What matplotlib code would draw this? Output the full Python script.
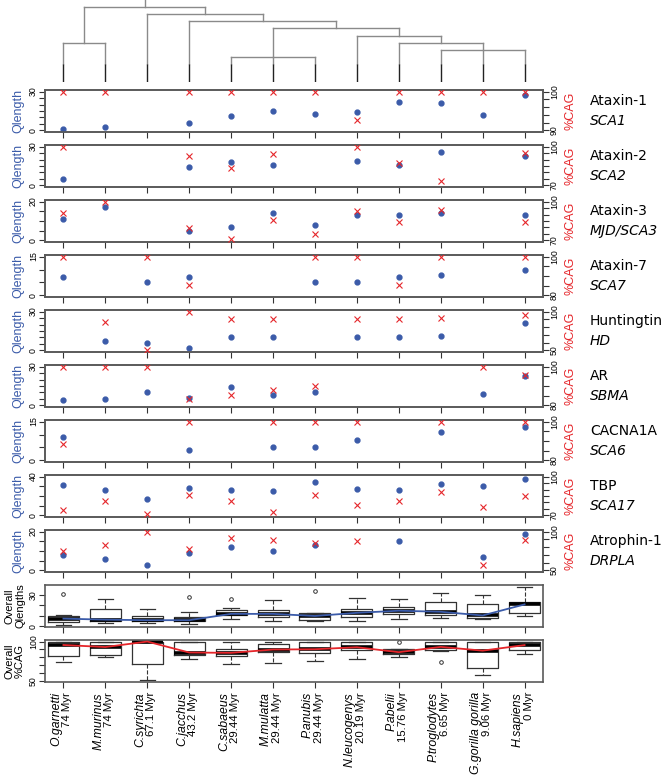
import numpy as np
import matplotlib.pyplot as plt

species = ['O.garnetti', 'M.murinus', 'C.syrichta', 'C.jacchus', 'C.sabaeus', 'M.mulatta',
           'P.anubis', 'N.leucogenys', 'P.abelii', 'P.troglodytes', 'G.gorilla gorilla', 'H.sapiens']
myr = ['74', '74', '67.1', '43.2', '29.44', '29.44', '29.44', '20.19', '15.76', '6.65', '9.06', '0']

genes = ['Ataxin-1', 'Ataxin-2', 'Ataxin-3', 'Ataxin-7', 'Huntingtin', 'AR', 'CACNA1A', 'TBP', 'Atrophin-1']
diseases = ['SCA1', 'SCA2', 'MJD/SCA3', 'SCA7', 'HD', 'SBMA', 'SCA6', 'SCA17', 'DRPLA']

n = np.nan
# polyQ length per gene (rows) and species (columns)
qlen = [
    [1, 3, n, 6, 11, 15, 13, 14, 22, 21, 12, 27],
    [5, n, n, 14, 18, 16, n, 19, 16, 26, n, 23],
    [11, 17, n, 5, 7, 14, 8, 13, 13, 14, n, 13],
    [7, n, 5, 7, n, n, 5, 5, 7, 8, n, 10],
    [n, 7, 6, 2, 10, 10, n, 10, 10, 11, n, 21],
    [4, 5, 10, 6, 14, 8, 10, n, n, n, 9, 23],
    [9, n, n, 4, n, 5, 5, 8, n, 11, n, 13],
    [31, 26, 17, 28, 26, 25, 34, 27, 26, 32, 30, 38],
    [8, 6, 3, 9, 12, 10, 13, n, 15, n, 7, 19],
]
# percent CAG codons
cag = [
    [100, 100, n, 100, 100, 100, 100, 92.8, 100, 100, 100, 100],
    [100, n, n, 92.9, 83.3, 93.9, n, 100, 87.5, 73.4, n, 95.3],
    [91.2, 100, n, 79.8, 71.3, 85.6, 74.8, 92.7, 84.4, 93.2, n, 84.6],
    [100, n, 100, 85.4, n, n, 100, 100, 85.4, 100, n, 100],
    [n, 86, 50.4, 100, 90, 90, n, 90, 90, 91.3, n, 95.5],
    [100, 100, 100, 83.2, 85.6, 87.8, 90.2, n, n, n, 100, 95.6],
    [88.7, n, n, 100, n, 100, 100, 100, n, 100, n, 100],
    [74.3, 80.8, 71, 86, 80.8, 72.3, 85.5, 78, 80.8, 87.8, 76.8, 84.8],
    [75, 83.3, 100, 78, 91.7, 89.6, 85.8, 87.5, n, n, 57, 89.6],
]
q_max = [30, 30, 20, 15, 30, 30, 15, 40, 20]
q_step = [5, 5, 5, 5, 5, 5, 5, 10, 5]
cag_min = [90, 70, 70, 80, 50, 80, 80, 70, 50]
cag_step = [2, 5, 5, 5, 10, 5, 5, 5, 10]

# dendrogram merges: name, children, height
merges = [
    ('A', ['C.sabaeus', 'M.mulatta', 'P.anubis'], 1),
    ('B', ['P.troglodytes', 'G.gorilla gorilla', 'H.sapiens'], 2),
    ('C', ['P.abelii', 'B'], 3),
    ('D', ['N.leucogenys', 'C'], 4),
    ('E', ['A', 'D'], 5),
    ('F', ['C.jacchus', 'E'], 6),
    ('G', ['C.syrichta', 'F'], 7),
    ('H', ['O.garnetti', 'M.murinus'], 3),
    ('root', ['H', 'G'], 8),
]

BLUE = '#3B5BA9'
RED = '#E5262B'
W, H = 669, 777
fig = plt.figure(figsize=(W / 100, H / 100), dpi=100)


def fx(px):
    return px / W


def fy(px):
    return 1 - px / H


x = np.arange(1, 13)
XL = (0.56, 12.44)
LEFT, RIGHT = 45, 543
TOP0, PITCH, PH = 90, 55, 42

# dendrogram
dax = fig.add_axes([fx(LEFT), fy(82), fx(RIGHT - LEFT), 82 / H])
dax.set_xlim(*XL)
dax.set_ylim(-18 / 7.11, 9)
dax.axis('off')
pos = {s: i + 1 for i, s in enumerate(species)}
hgt = {s: 0 for s in species}
for name, kids, h in merges:
    xs = [pos[k] for k in kids]
    for k in kids:
        dax.plot([pos[k], pos[k]], [hgt[k], h], color='#8a8a8a', lw=1)
    dax.plot([min(xs), max(xs)], [h, h], color='#8a8a8a', lw=1)
    pos[name] = (min(xs) + max(xs)) / 2
    hgt[name] = h
dax.plot([pos['root'], pos['root']], [8, 9], color='#8a8a8a', lw=1)
dax.vlines(x, -18 / 7.11, 0, color='#222222', lw=1)


def style(ax):
    for sp in ax.spines.values():
        sp.set_color('#5a5a5a')
        sp.set_linewidth(1.2)
    ax.set_xlim(*XL)
    ax.set_xticks(x)
    ax.set_xticklabels([])
    ax.tick_params(direction='out', length=4, width=0.8, color='#333333', labelsize=6.3, pad=1)


for i in range(9):
    top = TOP0 + i * PITCH
    ax = fig.add_axes([fx(LEFT), fy(top + PH), fx(RIGHT - LEFT), PH / H])
    style(ax)
    qm = q_max[i]
    ax.plot(x, qlen[i], 'o', color=BLUE, ms=3.5, zorder=3)
    ax.set_ylim(-0.04 * qm, 1.04 * qm)
    yt = np.arange(0, qm + 1, q_step[i])
    ax.set_yticks(yt)
    ax.set_yticklabels([str(v) if v in (0, qm) else '' for v in yt], rotation=90, va='center',
                       family='Liberation Sans')
    ax2 = ax.twinx()
    style(ax2)
    cm = cag_min[i]
    r = 100 - cm
    ax2.plot(x, cag[i], 'x', color=RED, ms=4, mew=0.8, zorder=3)
    ax2.set_ylim(cm - 0.04 * r, 100 + 0.04 * r)
    ct = np.arange(cm, 101, cag_step[i])
    ax2.set_yticks(ct)
    ax2.set_yticklabels([str(v) if v in (cm, 100) else '' for v in ct], rotation=90, va='center',
                        family='Liberation Sans')
    cy = top + PH / 2
    fig.text(fx(18), fy(cy), 'Qlength', color=BLUE, rotation=90, ha='center', va='center',
             fontsize=9, family='Liberation Sans')
    fig.text(fx(570), fy(cy), '%CAG', color=RED, rotation=90, ha='center', va='center',
             fontsize=9, family='Liberation Sans')
    fig.text(fx(590), fy(cy - 10), genes[i], ha='left', va='center', fontsize=10)
    fig.text(fx(590), fy(cy + 10), diseases[i], ha='left', va='center', fontsize=10, style='italic')


def rstats(vals):
    v = np.sort(np.asarray([a for a in vals if not np.isnan(a)], float))
    m = len(v)
    n4 = np.floor((m + 3) / 2) / 2
    d = [1, n4, (m + 1) / 2, m + 1 - n4, m]
    fn = [0.5 * (v[int(np.floor(k)) - 1] + v[int(np.ceil(k)) - 1]) for k in d]
    iqr = fn[3] - fn[1]
    lo, hi = fn[1] - 1.5 * iqr, fn[3] + 1.5 * iqr
    inside = v[(v >= lo) & (v <= hi)]
    return dict(med=fn[2], q1=fn[1], q3=fn[3], whislo=inside.min(), whishi=inside.max(),
                fliers=v[(v < lo) | (v > hi)])


qarr = np.array(qlen, float)
carr = np.array(cag, float)
box_sets = [(qarr, BLUE, 'Overall\nQlengths'), (carr, RED, 'Overall\n%CAG')]
for j, (arr, col, lab) in enumerate(box_sets):
    top = TOP0 + (9 + j) * PITCH
    ax = fig.add_axes([fx(LEFT), fy(top + PH), fx(RIGHT - LEFT), PH / H])
    style(ax)
    stats = [rstats(arr[:, k]) for k in range(12)]
    ax.bxp(stats, positions=x, widths=0.74, manage_ticks=False,
           boxprops=dict(color='#333333', lw=0.9),
           medianprops=dict(color='black', lw=2.6),
           whiskerprops=dict(color='#333333', lw=0.8, ls='--'),
           capprops=dict(color='#333333', lw=0.9),
           flierprops=dict(marker='o', mfc='none', mec='#333333', ms=2.6, mew=0.7))
    ax.plot(x, [s['med'] for s in stats], color=col, lw=1.3, zorder=4)
    lo, hi = np.nanmin(arr), np.nanmax(arr)
    pad = 0.04 * (hi - lo)
    ax.set_ylim(lo - pad, hi + pad)
    if j == 0:
        yt = np.arange(0, 31, 10)
        lbl = ['0', '', '', '30']
    else:
        yt = np.arange(50, 101, 10)
        lbl = ['50', '', '', '', '', '100']
    ax.set_yticks(yt)
    ax.set_yticklabels(lbl, rotation=90, va='center', family='Liberation Sans')
    fig.text(fx(15), fy(top + PH / 2), lab, rotation=90, ha='center', va='center',
             fontsize=8, family='Liberation Sans', linespacing=1.0)

# species labels under the last panel
label_top = TOP0 + 10 * PITCH + PH + 10
for k in range(12):
    px = LEFT + (x[k] - XL[0]) / (XL[1] - XL[0]) * (RIGHT - LEFT)
    fig.text(fx(px - 7), fy(label_top), species[k], rotation=90, ha='center', va='top',
             fontsize=8.8, style='italic', family='Liberation Sans')
    fig.text(fx(px + 4), fy(label_top), myr[k] + ' Myr', rotation=90, ha='center', va='top',
             fontsize=8.2, family='Liberation Sans')

fig.savefig('out.png', dpi=100)
